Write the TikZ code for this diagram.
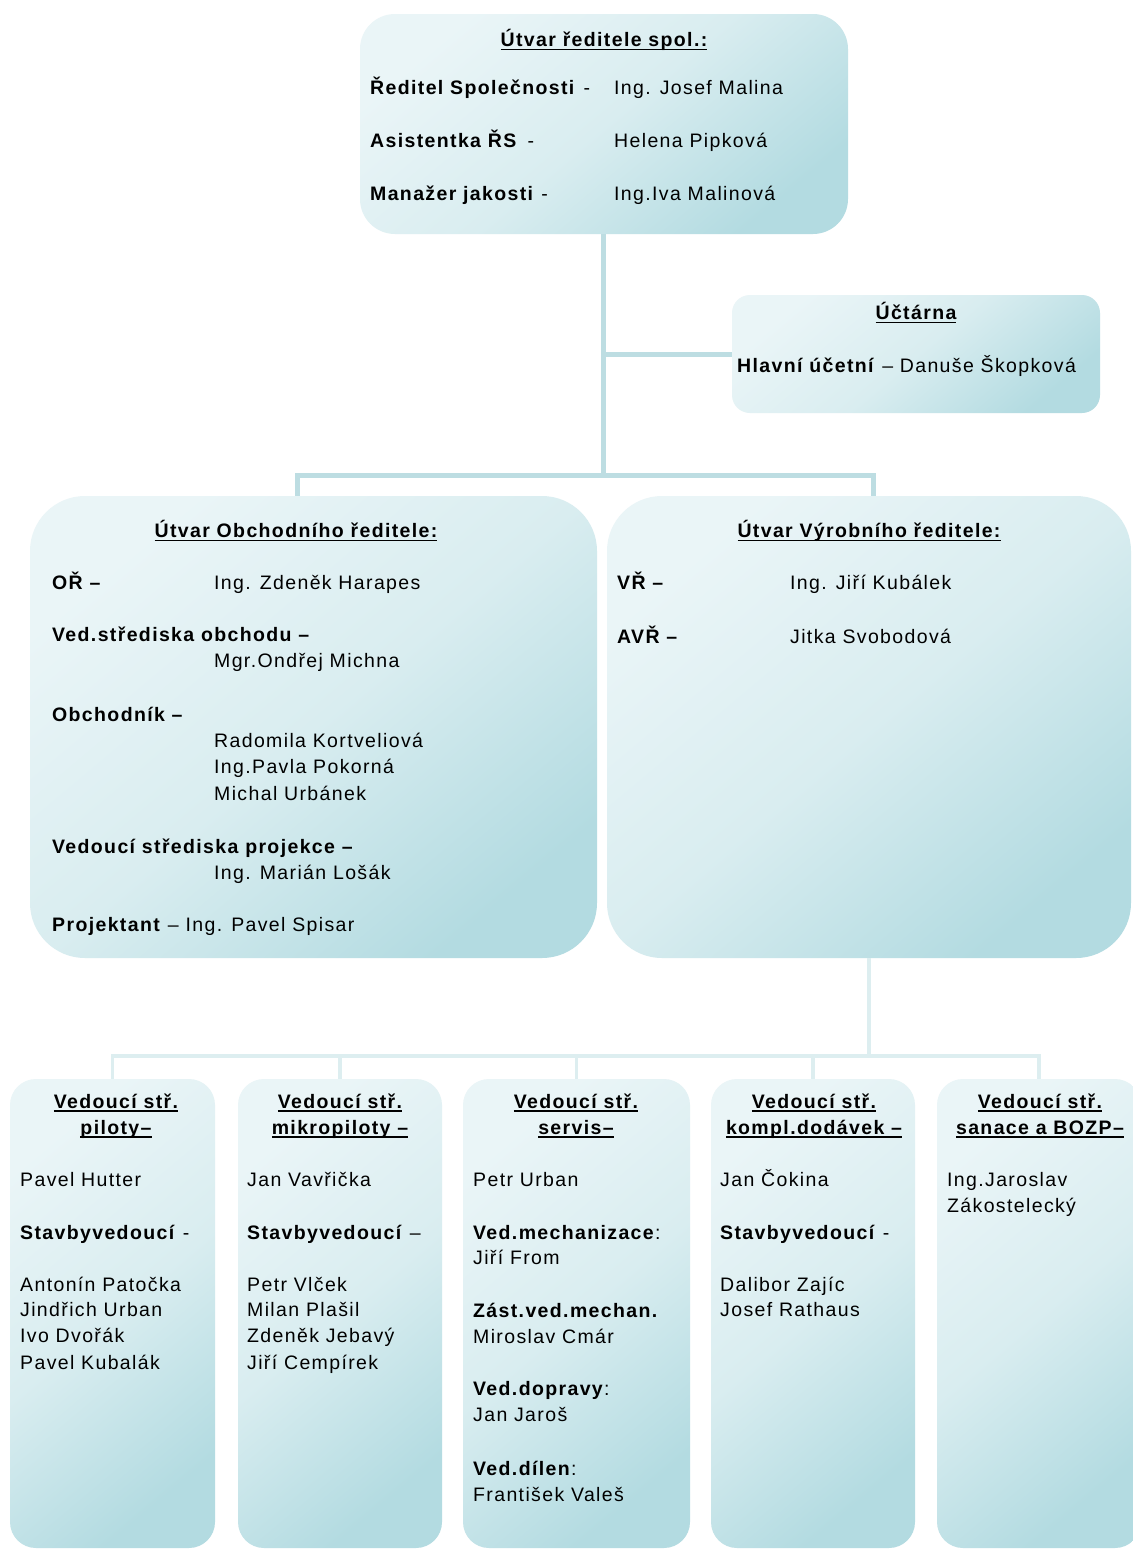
\documentclass[tikz,border=0pt]{standalone}
\usepackage{fontspec}
\setmainfont{Liberation Sans}[LetterSpace=7]
\definecolor{boxL}{HTML}{EAF5F7}
\definecolor{boxM}{HTML}{D9EDF0}
\definecolor{boxD}{HTML}{B3DBE1}
\definecolor{lineA}{HTML}{BDDDE2}
\definecolor{lineB}{HTML}{DDEEF0}
\newcommand\ulin[1]{\setbox0\hbox{#1}\rlap{\rule[-3.5pt]{\wd0}{1.6pt}}\box0}
\begin{document}
\begin{tikzpicture}[x=1pt,y=-1pt,
  box/.style={rectangle, draw=none, inner sep=0pt, top color=boxL, bottom color=boxD, middle color=boxM, shading angle=40},
  txt/.style={anchor=west, inner sep=0pt, text height=13pt, text depth=3pt, font=\fontsize{19.5}{23}\selectfont},
  ttl/.style={anchor=center, inner sep=0pt, align=center, font=\fontsize{19.5}{26}\selectfont\bfseries},
  conA/.style={draw=lineA, line width=5pt},
  conB/.style={draw=lineB, line width=3.5pt}]
\useasboundingbox (0,0) rectangle (1133,1551);
\fill[white] (0,0) rectangle (1133,1551);
% boxes
\node[box, rounded corners=35pt, minimum width=488pt, minimum height=220pt] (top) at (604,124) {};
\node[box, rounded corners=18pt, minimum width=368pt, minimum height=118pt] (uct) at (916,354) {};
\node[box, rounded corners=55pt, minimum width=567pt, minimum height=462pt] (obch) at (313.5,727) {};
\node[box, rounded corners=55pt, minimum width=524pt, minimum height=462pt] (vyr) at (869,727) {};
\node[box, rounded corners=26pt, minimum width=205pt, minimum height=469pt] (b1) at (112.5,1313.5) {};
\node[box, rounded corners=26pt, minimum width=204pt, minimum height=469pt] (b2) at (340,1313.5) {};
\node[box, rounded corners=26pt, minimum width=227pt, minimum height=469pt] (b3) at (576.5,1313.5) {};
\node[box, rounded corners=26pt, minimum width=204pt, minimum height=469pt] (b4) at (813,1313.5) {};
\node[box, rounded corners=26pt, minimum width=204pt, minimum height=469pt] (b5) at (1039,1313.5) {};
% connectors
\coordinate (j0) at (603,354);
\coordinate (j1) at (603,475);
\coordinate (lb) at (297,475);
\coordinate (rb) at (873,475);
\coordinate (bb) at (869,1056);
\path[conA] (top.south -| j1) -- (j1);
\path[conA] (j0) -- (j0 -| uct.west);
\path[conA] (lb |- obch.north) -- (lb) -- (rb) -- (rb |- vyr.north);
\path[conB] (vyr.south) -- (bb);
\path[conB] (b1.north) -- (b1.north |- bb) -- (b5.north |- bb) -- (b5.north);
\path[conB] (b2.north |- bb) -- (b2.north);
\path[conB] (b3.north |- bb) -- (b3.north);
\path[conB] (b4.north |- bb) -- (b4.north);
% top box
\node[ttl] (tT) at (604,40) {\ulin{Útvar ředitele spol.:}};
\node[txt] (tA1) at (370,89) {\textbf{Ředitel Společnosti}\hspace{8pt}-};
\node[txt] (tA2) at (614,89) {Ing. Josef Malina};
\node[txt] (tB1) at (370,142) {\textbf{Asistentka ŘS}\hspace{10pt}-};
\node[txt] (tB2) at (614,142) {Helena Pipková};
\node[txt] (tC1) at (370,195) {\textbf{Manažer jakosti} -};
\node[txt] (tC2) at (614,195) {Ing.Iva Malinová};
% uctarna
\node[ttl] (uT) at (916,313) {\ulin{Účtárna}};
\node[txt] (u1) at (737,367) {\textbf{Hlavní účetní} – Danuše Škopková};
% obchod
\node[ttl] (oT) at (296,531) {\ulin{Útvar Obchodního ředitele:}};
\node[txt] (o1) at (52,584) {\textbf{OŘ –}};
\node[txt] (o2) at (214,584) {Ing. Zdeněk Harapes};
\node[txt] (o3) at (52,636) {\textbf{Ved.střediska obchodu –}};
\node[txt] (o4) at (214,662) {Mgr.Ondřej Michna};
\node[txt] (o5) at (52,716) {\textbf{Obchodník –}};
\node[txt] (o6) at (214,742) {Radomila Kortveliová};
\node[txt] (o7) at (214,768) {Ing.Pavla Pokorná};
\node[txt] (o8) at (214,795) {Michal Urbánek};
\node[txt] (o9) at (52,848) {\textbf{Vedoucí střediska projekce –}};
\node[txt] (o10) at (214,874) {Ing. Marián Lošák};
\node[txt] (o11) at (52,926) {\textbf{Projektant} – Ing. Pavel Spisar};
% vyroba
\node[ttl] (vT) at (869,531) {\ulin{Útvar Výrobního ředitele:}};
\node[txt] (v1) at (617,584) {\textbf{VŘ –}};
\node[txt] (v2) at (790,584) {Ing. Jiří Kubálek};
\node[txt] (v3) at (617,638) {\textbf{AVŘ –}};
\node[txt] (v4) at (790,638) {Jitka Svobodová};
% bottom box 1
\node[ttl] (p1T) at (116,1116) {\ulin{Vedoucí stř.}\\\ulin{piloty–}};
\node[txt] (p11) at (20,1181) {Pavel Hutter};
\node[txt] (p12) at (20,1234) {\textbf{Stavbyvedoucí} -};
\node[txt] (p13) at (20,1286) {Antonín Patočka};
\node[txt] (p14) at (20,1311) {Jindřich Urban};
\node[txt] (p15) at (20,1337) {Ivo Dvořák};
\node[txt] (p16) at (20,1364) {Pavel Kubalák};
% bottom box 2
\node[ttl] (p2T) at (340,1116) {\ulin{Vedoucí stř.}\\\ulin{mikropiloty –}};
\node[txt] (p21) at (247,1181) {Jan Vavřička};
\node[txt] (p22) at (247,1234) {\textbf{Stavbyvedoucí} –};
\node[txt] (p23) at (247,1286) {Petr Vlček};
\node[txt] (p24) at (247,1311) {Milan Plašil};
\node[txt] (p25) at (247,1337) {Zdeněk Jebavý};
\node[txt] (p26) at (247,1364) {Jiří Cempírek};
% bottom box 3
\node[ttl] (p3T) at (576,1116) {\ulin{Vedoucí stř.}\\\ulin{servis–}};
\node[txt] (p31) at (473,1181) {Petr Urban};
\node[txt] (p32) at (473,1234) {\textbf{Ved.mechanizace}:};
\node[txt] (p33) at (473,1259) {Jiří From};
\node[txt] (p34) at (473,1312) {\textbf{Zást.ved.mechan.}};
\node[txt] (p35) at (473,1338) {Miroslav Cmár};
\node[txt] (p36) at (473,1390) {\textbf{Ved.dopravy}:};
\node[txt] (p37) at (473,1416) {Jan Jaroš};
\node[txt] (p38) at (473,1470) {\textbf{Ved.dílen}:};
\node[txt] (p39) at (473,1496) {František Valeš};
% bottom box 4
\node[ttl] (p4T) at (814,1116) {\ulin{Vedoucí stř.}\\\ulin{kompl.dodávek –}};
\node[txt] (p41) at (720,1181) {Jan Čokina};
\node[txt] (p42) at (720,1234) {\textbf{Stavbyvedoucí} -};
\node[txt] (p43) at (720,1286) {Dalibor Zajíc};
\node[txt] (p44) at (720,1311) {Josef Rathaus};
% bottom box 5
\node[ttl] (p5T) at (1040,1116) {\ulin{Vedoucí stř.}\\\ulin{sanace a BOZP–}};
\node[txt] (p51) at (947,1181) {Ing.Jaroslav};
\node[txt] (p52) at (947,1207) {Zákostelecký};
\end{tikzpicture}
\end{document}
